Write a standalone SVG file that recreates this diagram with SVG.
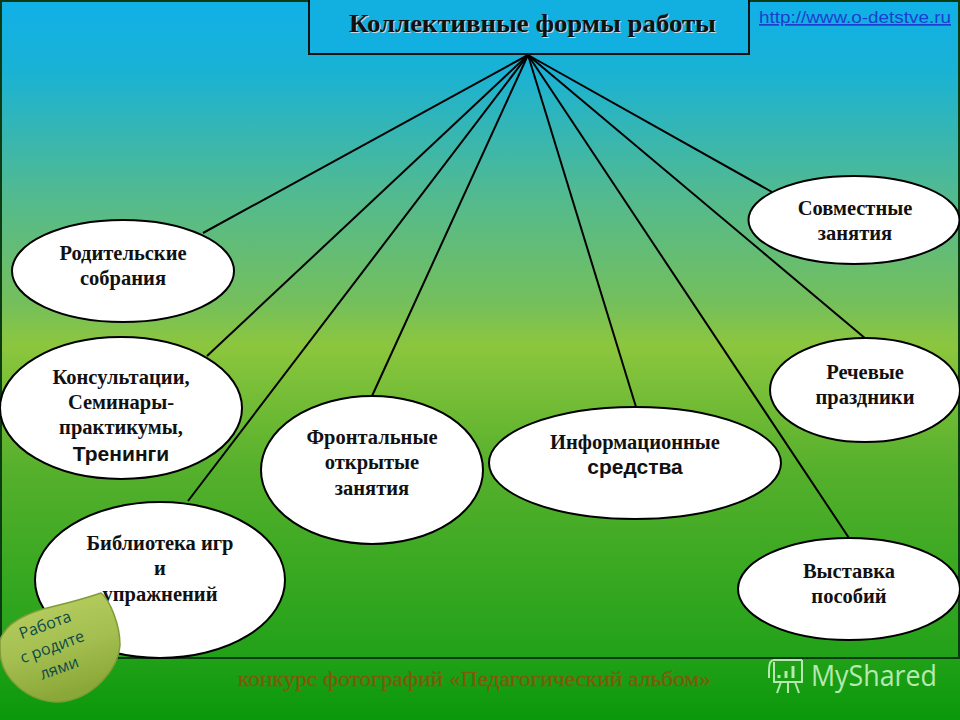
<svg xmlns="http://www.w3.org/2000/svg" width="960" height="720" viewBox="0 0 960 720">
<style>
.t{font-family:"Liberation Serif",serif;font-weight:bold;font-size:20.5px;fill:#111;text-anchor:middle}
.a{font-family:"Liberation Sans",sans-serif;font-weight:bold;font-size:21px;fill:#111;text-anchor:middle}
.n{fill:#fff;stroke:#000;stroke-width:2}
.c line{stroke:#000;stroke-width:2}
</style>
<defs>
<linearGradient id="bg" x1="0" y1="0" x2="0" y2="1">
<stop offset="0" stop-color="#10b0e8"/><stop offset="0.1" stop-color="#1ab2d4"/><stop offset="0.27" stop-color="#52ba90"/><stop offset="0.42" stop-color="#74bf5c"/><stop offset="0.48" stop-color="#8cc63e"/><stop offset="0.65" stop-color="#56b02c"/><stop offset="0.9" stop-color="#24a21a"/><stop offset="1" stop-color="#0a980a"/>
</linearGradient>
<linearGradient id="leaf" x1="0" y1="0" x2="0.3" y2="1">
<stop offset="0" stop-color="#bcd264"/><stop offset="0.6" stop-color="#a4be50"/><stop offset="1" stop-color="#8aa838"/>
</linearGradient>
</defs>
<rect id="background" width="960" height="720" fill="url(#bg)"/>
<path id="frame" d="M1 1V658H959V1Z" fill="none" stroke="#0c3a12" stroke-width="2"/>
<g id="connectors" class="c">
<line x1="528" y1="55" x2="203" y2="233"/>
<line x1="528" y1="55" x2="207" y2="356"/>
<line x1="528" y1="55" x2="188" y2="501"/>
<line x1="528" y1="55" x2="372" y2="396"/>
<line x1="528" y1="55" x2="636" y2="407"/>
<line x1="528" y1="55" x2="849" y2="538"/>
<line x1="528" y1="55" x2="866" y2="339"/>
<line x1="528" y1="55" x2="772" y2="192"/>
</g>
<g id="title">
<rect x="309" y="-2" width="440" height="56" fill="#12b0e0" stroke="#111" stroke-width="2"/>
<text x="532.5" y="32" text-anchor="middle" font-family="Liberation Serif, serif" font-weight="bold" font-size="26" fill="#c8d8e0" transform="translate(1 1)" textLength="367" lengthAdjust="spacingAndGlyphs">Коллективные формы работы</text>
<text x="532.5" y="32" text-anchor="middle" font-family="Liberation Serif, serif" font-weight="bold" font-size="26" fill="#111" textLength="367" lengthAdjust="spacingAndGlyphs">Коллективные формы работы</text>
</g>
<text id="url" x="759" y="23" font-family="Liberation Sans, sans-serif" font-size="17" fill="#1a3fd0" text-decoration="underline" textLength="192" lengthAdjust="spacingAndGlyphs">http://www.o-detstve.ru</text>
<g id="n1"><ellipse class="n" cx="123" cy="271" rx="111" ry="51"/><text class="t" x="123" y="260">Родительские</text><text class="t" x="123" y="285">собрания</text></g>
<g id="n2"><ellipse class="n" cx="121" cy="408" rx="121" ry="71"/><text class="t" x="121" y="384">Консультации,</text><text class="t" x="121" y="409">Семинары-</text><text class="t" x="121" y="434">практикумы,</text><text class="a" x="121" y="461">Тренинги</text></g>
<g id="n3"><ellipse class="n" cx="160" cy="580" rx="125" ry="78"/><text class="t" x="160" y="550">Библиотека игр</text><text class="t" x="160" y="575">и</text><text class="t" x="160" y="601">упражнений</text></g>
<g id="n4"><ellipse class="n" cx="372" cy="470" rx="111" ry="74"/><text class="t" x="372" y="444">Фронтальные</text><text class="t" x="372" y="469">открытые</text><text class="t" x="372" y="495">занятия</text></g>
<g id="n5"><ellipse class="n" cx="635" cy="463" rx="146" ry="56"/><text class="t" x="635" y="449">Информационные</text><text class="a" x="635" y="474">средства</text></g>
<g id="n6"><ellipse class="n" cx="854" cy="220" rx="105.500" ry="44"/><text class="t" x="855" y="215">Совместные</text><text class="t" x="855" y="240">занятия</text></g>
<g id="n7"><ellipse class="n" cx="865" cy="390" rx="95" ry="52"/><text class="t" x="865" y="379">Речевые</text><text class="t" x="865" y="404">праздники</text></g>
<g id="n8"><ellipse class="n" cx="849" cy="589" rx="111" ry="51"/><text class="t" x="849" y="578">Выставка</text><text class="t" x="849" y="603">пособий</text></g>
<g id="badge">
<path d="M0 640C6 622 28 612 55 606C80 600 95 595 101 593C110 600 120 625 120 645C118 670 92 700 58 702C30 702 0 680 0 650Z" fill="url(#leaf)" stroke="#7f9c38" stroke-width="1.500"/>
<g font-family="Open Sans, sans-serif" font-size="16" fill="#0c4a4a" text-anchor="middle">
<text x="47" y="630" transform="rotate(-20 47 630)">Работа</text>
<text x="54" y="652" transform="rotate(-20 54 652)">с родите</text>
<text x="61" y="673" transform="rotate(-20 61 673)">лями</text>
</g>
</g>
<text id="caption" x="474.5" y="686" text-anchor="middle" font-family="Liberation Serif, serif" font-size="21" fill="#7e5a0a" stroke="#7e5a0a" stroke-width="0.300" textLength="473" lengthAdjust="spacingAndGlyphs">конкурс фотографий «Педагогический альбом»</text>
<g id="logo" fill="none" stroke="#b6e8b0" stroke-width="2">
<path d="M774 660H802M774 660C770 660 769 664 769 670V678M802 660V682H774V662M781 682L777 693M795 682L799 693M788 682V693"/>
<path d="M779 678V675M786 678V671M793 678V666" stroke-width="3"/>
</g>
<text id="logotext" x="811" y="686" font-family="Open Sans, sans-serif" font-size="29" fill="#b6e8b0" textLength="126" lengthAdjust="spacingAndGlyphs">MyShared</text>
</svg>
